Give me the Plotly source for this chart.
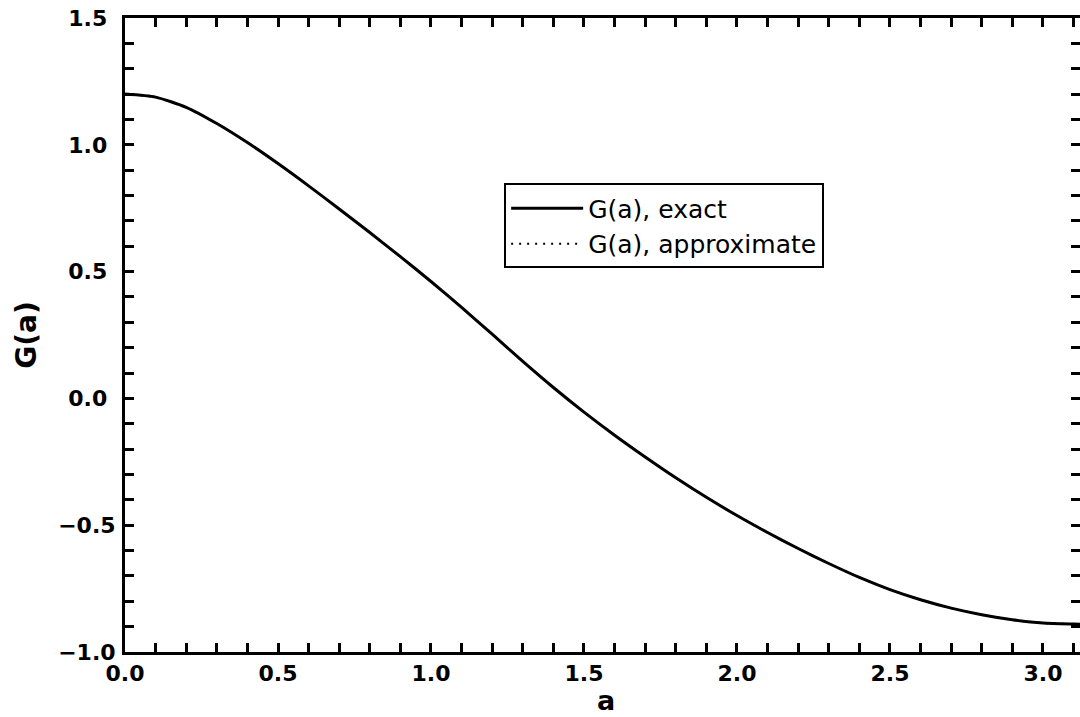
import numpy as np
import plotly.graph_objects as go

# G(a) sampled every 0.1 along the curve, plus the end point at pi
a_vals = [0.0, 0.1, 0.2, 0.3, 0.4, 0.5, 0.6, 0.7, 0.8, 0.9, 1.0,
          1.1, 1.2, 1.3, 1.4, 1.5, 1.6, 1.7, 1.8, 1.9, 2.0,
          2.1, 2.2, 2.3, 2.4, 2.5, 2.6, 2.7, 2.8, 2.9, 3.0,
          3.1, 3.1416]
g_exact = [1.200, 1.188, 1.148, 1.084, 1.009, 0.926, 0.838, 0.747, 0.654, 0.559, 0.461,
           0.359, 0.253, 0.146, 0.043, -0.054, -0.145, -0.231, -0.313, -0.390, -0.462,
           -0.529, -0.592, -0.651, -0.706, -0.754, -0.794, -0.827, -0.853, -0.873, -0.886,
           -0.890, -0.891]
g_approx = [1.200, 1.188, 1.148, 1.084, 1.009, 0.926, 0.838, 0.747, 0.654, 0.559, 0.461,
            0.359, 0.253, 0.146, 0.043, -0.054, -0.145, -0.231, -0.313, -0.390, -0.462,
            -0.529, -0.592, -0.651, -0.706, -0.754, -0.794, -0.827, -0.853, -0.873, -0.886,
            -0.890, -0.891]

x_label_vals = [0.0, 0.5, 1.0, 1.5, 2.0, 2.5, 3.0]
x_label_text = ["0.0", "0.5", "1.0", "1.5", "2.0", "2.5", "3.0"]
y_label_vals = [-1.0, -0.5, 0.0, 0.5, 1.0, 1.5]
y_label_text = ["\u22121.0", "\u22120.5", "0.0", "0.5", "1.0", "1.5"]
x_title = "a"
y_title = "G(a)"

X_RANGE = [0.0, 3.121]
Y_RANGE = [-1.0, 1.5]
MINOR_STEP = 0.1


def tick_arrays(lo, hi, label_vals, label_text, pad=""):
    """Ticks every 0.1; only the listed values carry a label."""
    vals = np.round(np.arange(lo, hi + 1e-9, MINOR_STEP), 6)
    text = []
    for v in vals:
        hit = [t for lv, t in zip(label_vals, label_text) if abs(lv - v) < 1e-6]
        if hit:
            t = hit[0]
            text.append(t if t.startswith("\u2212") else t + pad)
        else:
            text.append("")
    return list(vals), text


xt_vals, xt_text = tick_arrays(0.0, 3.1, x_label_vals, x_label_text)
# a trailing punctuation space keeps positive labels centred under the signed ones
yt_vals, yt_text = tick_arrays(-1.0, 1.5, y_label_vals, y_label_text, pad="\u2008")

tick_font = dict(family="DejaVu Sans", size=22, color="black", weight="bold")

fig = go.Figure()
fig.add_trace(go.Scatter(
    x=a_vals, y=g_exact, mode="lines", name="G(a), exact",
    line=dict(color="black", width=3, shape="spline", smoothing=0.6),
))
fig.add_trace(go.Scatter(
    x=a_vals, y=g_approx, mode="lines", name="G(a), approximate",
    line=dict(color="black", width=2, dash="2px,6px", shape="spline", smoothing=0.6),
))

axis_common = dict(
    showline=True, linecolor="black", linewidth=3, mirror="allticks",
    ticks="inside", ticklen=9, tickwidth=2.5, tickcolor="black",
    tickmode="array", showgrid=False, zeroline=False, tickfont=tick_font,
    automargin=False,
)

fig.update_layout(
    width=1080, height=717,
    margin=dict(l=125, r=0, t=18, b=65),
    paper_bgcolor="white", plot_bgcolor="white",
    showlegend=True,
    legend=dict(
        x=0.397, y=0.739, xanchor="left", yanchor="top",
        bgcolor="white", bordercolor="black", borderwidth=2,
        font=dict(family="DejaVu Sans", size=25, color="black"),
        itemwidth=72, tracegroupgap=0,
    ),
    xaxis=dict(
        range=X_RANGE, tickvals=xt_vals, ticktext=xt_text,
        ticklabelstandoff=0,
        **axis_common,
    ),
    yaxis=dict(
        range=Y_RANGE, tickvals=yt_vals, ticktext=yt_text,
        ticklabelstandoff=2,
        title=dict(text=y_title, font=dict(family="DejaVu Sans", size=28, color="black", weight="bold"),
                   standoff=14),
        **axis_common,
    ),
    annotations=[
        # x-axis title, centred under the full 0..pi span
        dict(text=x_title, xref="paper", x=0.5037, yref="paper", y=0,
             xanchor="center", yanchor="bottom", yshift=-66, showarrow=False,
             font=dict(family="DejaVu Sans", size=27, color="black", weight="bold")),
    ],
)

fig.write_html("out.html")
